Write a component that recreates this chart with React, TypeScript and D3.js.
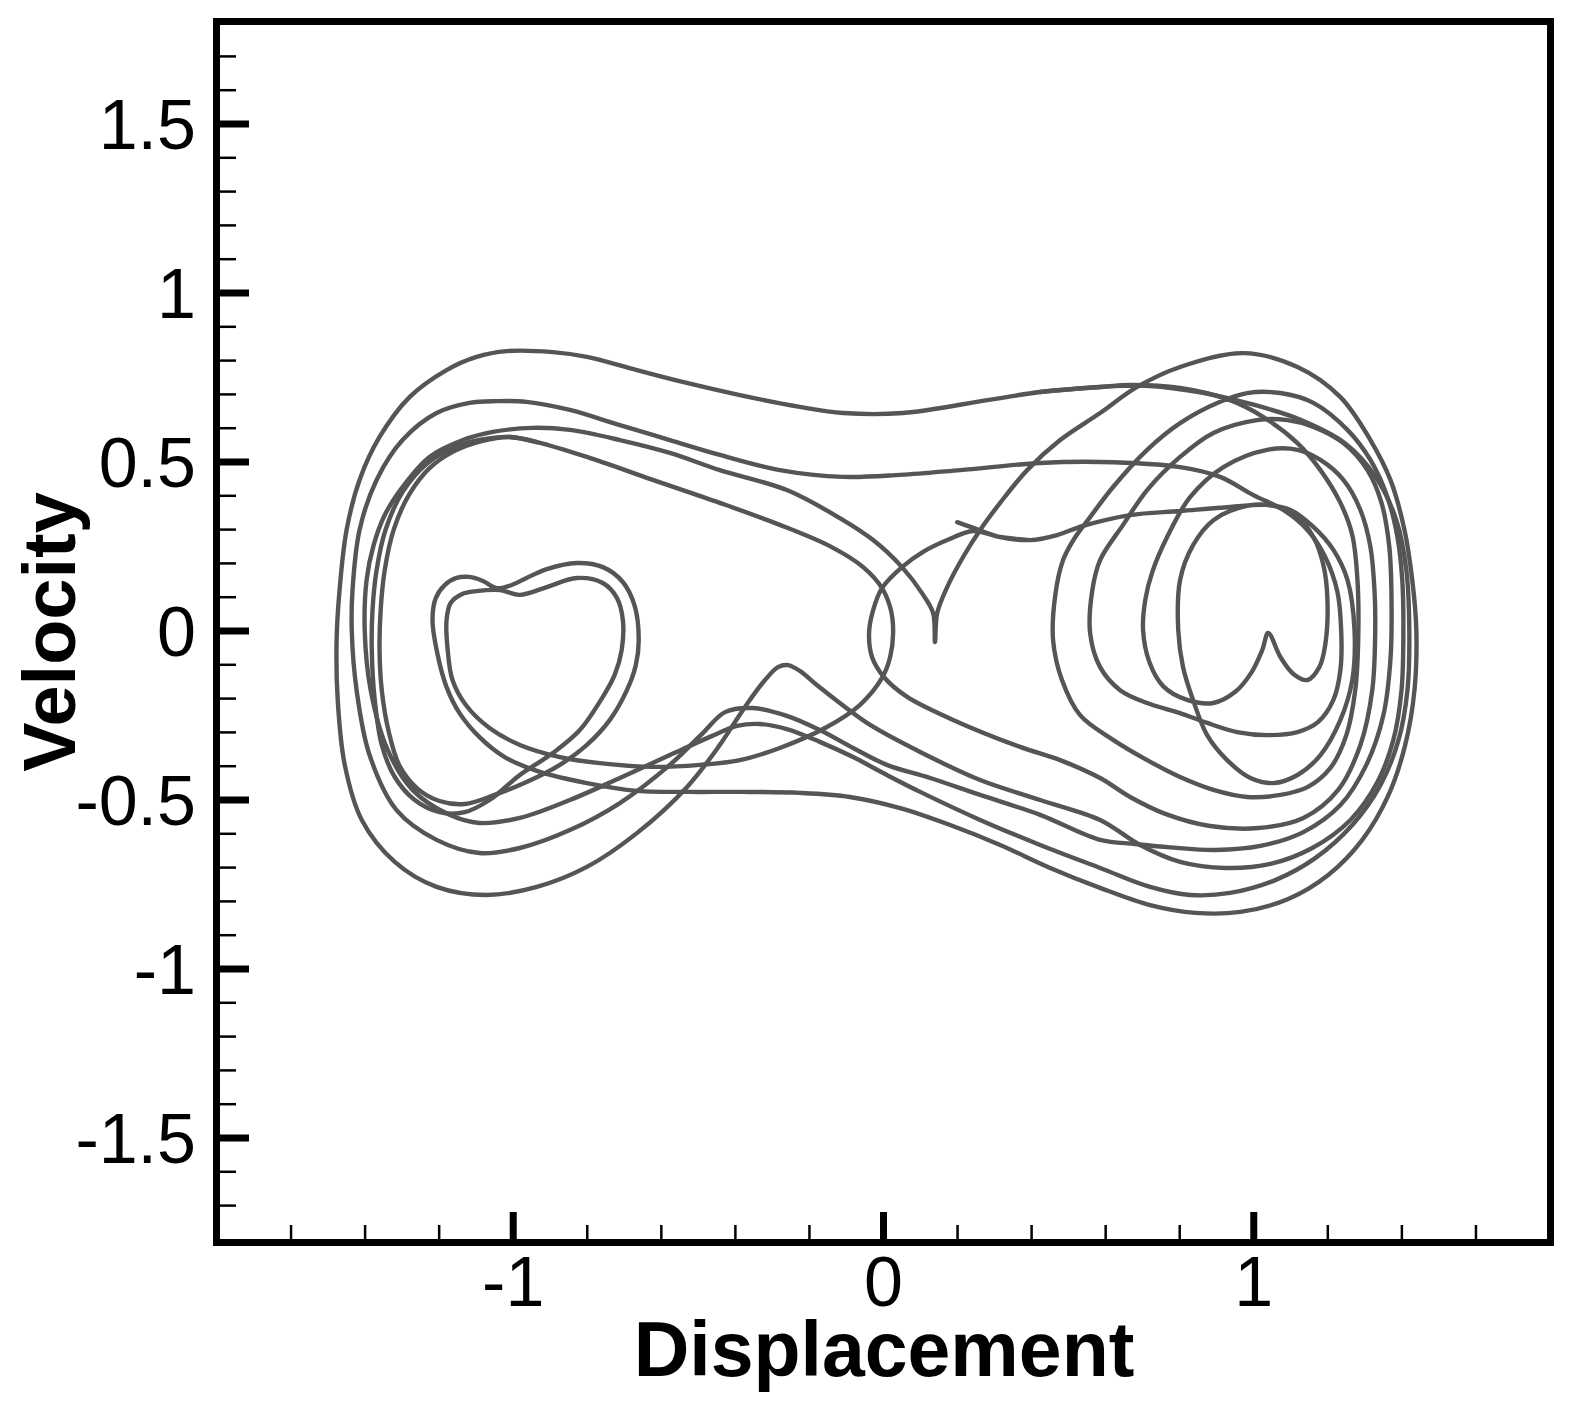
import React from 'react';
import * as d3 from 'd3';

// phase portrait (displacement, velocity)
const orbitA = [
  [0.585,-0.559],[0.423,-0.500],[0.261,-0.441],[0.099,-0.358],[-0.036,-0.278],[-0.118,-0.213],[-0.180,-0.160],[-0.226,-0.118],[-0.258,-0.101],[-0.285,-0.107],[-0.320,-0.145],[-0.361,-0.204],[-0.401,-0.269],[-0.442,-0.337],[-0.531,-0.462],[-0.666,-0.598],[-0.801,-0.698],[-0.936,-0.757],[-1.072,-0.781],[-1.207,-0.757],[-1.320,-0.683],[-1.409,-0.559],[-1.455,-0.396],[-1.474,-0.204],[-1.477,-0.027],[-1.469,0.121],[-1.450,0.299],[-1.415,0.447],[-1.361,0.574],[-1.280,0.692],[-1.180,0.772],[-1.099,0.811],[-1.018,0.828],[-0.893,0.825],[-0.801,0.811],[-0.666,0.772],[-0.531,0.734],[-0.388,0.698],[-0.226,0.663],[-0.109,0.645],[0.053,0.645],[0.280,0.683],[0.423,0.707],[0.585,0.722],[0.666,0.728],[0.801,0.719],[0.936,0.683],[1.026,0.633],[1.118,0.556],[1.180,0.476],[1.234,0.379],[1.266,0.284],[1.280,0.151],[1.282,-0.027],[1.274,-0.175],[1.250,-0.308],[1.207,-0.405],[1.145,-0.462],[1.072,-0.485],[0.982,-0.491],[0.891,-0.470],[0.801,-0.432],[0.712,-0.382],[0.620,-0.322],[0.531,-0.249],[0.482,-0.145],[0.458,-0.027],[0.464,0.107],[0.485,0.210],[0.518,0.278],[0.558,0.337],[0.620,0.426],[0.712,0.536],[0.801,0.615],[0.909,0.678],[0.982,0.704],[1.072,0.704],[1.161,0.675],[1.253,0.595],[1.315,0.506],[1.361,0.396],[1.388,0.278],[1.401,0.151],[1.404,0.003],[1.399,-0.175],[1.377,-0.322],[1.334,-0.447],[1.261,-0.559],[1.158,-0.642],[1.045,-0.689],[0.923,-0.701],[0.801,-0.683],[0.693,-0.633],
];

const orbitB = [
  [0.585,-0.618],[0.423,-0.544],[0.261,-0.485],[0.126,-0.435],[0.009,-0.396],[-0.082,-0.346],[-0.172,-0.293],[-0.261,-0.251],[-0.353,-0.228],[-0.428,-0.240],[-0.488,-0.302],[-0.577,-0.396],[-0.712,-0.509],[-0.847,-0.589],[-0.982,-0.642],[-1.091,-0.657],[-1.207,-0.618],[-1.315,-0.530],[-1.388,-0.367],[-1.423,-0.175],[-1.436,0],[-1.434,0.121],[-1.415,0.299],[-1.369,0.447],[-1.299,0.565],[-1.207,0.645],[-1.118,0.675],[-1.045,0.680],[-0.964,0.678],[-0.847,0.654],[-0.712,0.609],[-0.577,0.565],[-0.442,0.521],[-0.280,0.476],[-0.109,0.456],[0.045,0.462],[0.207,0.476],[0.423,0.497],[0.585,0.500],[0.801,0.485],[0.909,0.456],[0.999,0.402],[1.080,0.358],[1.145,0.299],[1.193,0.219],[1.226,0.115],[1.236,0.003],[1.234,-0.115],[1.215,-0.204],[1.174,-0.269],[1.118,-0.299],[1.036,-0.308],[0.955,-0.299],[0.874,-0.272],[0.801,-0.243],[0.712,-0.213],[0.639,-0.175],[0.585,-0.107],[0.558,-0.006],[0.564,0.121],[0.585,0.210],[0.647,0.314],[0.712,0.417],[0.801,0.515],[0.891,0.586],[1.009,0.624],[1.091,0.624],[1.161,0.604],[1.242,0.556],[1.307,0.476],[1.345,0.379],[1.366,0.249],[1.372,0.092],[1.369,-0.086],[1.350,-0.249],[1.304,-0.396],[1.234,-0.515],[1.134,-0.595],[1.018,-0.636],[0.896,-0.648],[0.774,-0.640],[0.680,-0.630],
];

const orbitC = [
  [-0.388,-0.382],[-0.496,-0.396],[-0.623,-0.402],[-0.766,-0.391],[-0.874,-0.373],[-0.982,-0.337],[-1.064,-0.287],[-1.128,-0.219],[-1.164,-0.145],[-1.177,-0.056],[-1.180,0.033],[-1.169,0.083],[-1.139,0.109],[-1.099,0.118],[-1.036,0.121],[-0.982,0.107],[-0.909,0.130],[-0.828,0.157],[-0.758,0.142],[-0.720,0.098],[-0.704,0.033],[-0.707,-0.056],[-0.726,-0.130],[-0.758,-0.195],[-0.820,-0.293],[-0.893,-0.361],[-0.982,-0.426],[-1.064,-0.500],[-1.131,-0.536],[-1.199,-0.536],[-1.266,-0.500],[-1.320,-0.432],[-1.355,-0.337],[-1.374,-0.204],[-1.382,-0.056],[-1.380,0.062],[-1.369,0.180],[-1.345,0.299],[-1.299,0.411],[-1.231,0.497],[-1.145,0.550],[-1.055,0.571],[-1.009,0.574],[-0.936,0.559],[-0.801,0.515],[-0.623,0.447],[-0.442,0.379],[-0.280,0.314],[-0.145,0.251],[-0.055,0.189],[-0.004,0.127],[0.020,0.062],[0.026,-0.006],[0.018,-0.077],[-0.004,-0.139],[-0.064,-0.219],[-0.158,-0.287],[-0.280,-0.346],
];

const orbitD = [
  [0.423,0.707],[0.585,0.722],[0.720,0.725],[0.855,0.706],[0.991,0.672],[1.126,0.625],[1.247,0.555],[1.328,0.458],[1.385,0.328],[1.412,0.180],[1.420,0.003],[1.415,-0.175],[1.391,-0.322],[1.342,-0.456],[1.266,-0.574],[1.166,-0.672],[1.058,-0.737],[0.936,-0.775],[0.828,-0.781],[0.720,-0.757],[0.585,-0.701],[0.423,-0.633],[0.261,-0.559],[0.099,-0.476],[0.009,-0.426],[-0.082,-0.373],[-0.172,-0.328],[-0.261,-0.290],[-0.334,-0.275],[-0.396,-0.281],[-0.464,-0.311],[-0.577,-0.367],[-0.712,-0.435],[-0.847,-0.500],[-0.982,-0.553],[-1.091,-0.568],[-1.172,-0.544],[-1.272,-0.470],[-1.339,-0.352],[-1.385,-0.175],[-1.401,0],[-1.396,0.151],[-1.377,0.254],[-1.347,0.343],[-1.299,0.426],[-1.226,0.515],[-1.136,0.565],[-1.055,0.589],[-0.947,0.601],[-0.847,0.595],[-0.712,0.565],[-0.577,0.527],[-0.442,0.476],[-0.261,0.417],[-0.118,0.334],[-0.028,0.269],[0.050,0.189],[0.104,0.112],[0.134,0.053],[0.139,-0.033],[0.145,0.053],[0.172,0.130],[0.215,0.219],[0.261,0.299],[0.315,0.379],[0.388,0.476],[0.477,0.565],[0.585,0.645],[0.685,0.722],[0.801,0.781],[0.972,0.822],[1.118,0.781],[1.234,0.692],[1.315,0.565],[1.369,0.447],[1.407,0.299],[1.428,0.151],[1.439,0.003],[1.434,-0.175],[1.409,-0.337],[1.364,-0.485],[1.293,-0.618],[1.201,-0.722],[1.093,-0.793],[0.964,-0.831],[0.842,-0.834],[0.720,-0.811],[0.585,-0.760],[0.450,-0.701],[0.315,-0.633],[0.180,-0.574],[0.045,-0.524],[-0.091,-0.491],[-0.226,-0.479],[-0.388,-0.476],[-0.523,-0.476],[-0.666,-0.473],[-0.801,-0.450],[-0.928,-0.417],[-1.023,-0.373],[-1.091,-0.314],[-1.145,-0.243],[-1.180,-0.166],[-1.204,-0.071],[-1.218,0.033],[-1.209,0.098],[-1.185,0.136],[-1.153,0.157],[-1.118,0.160],[-1.082,0.148],[-1.045,0.127],[-1.004,0.136],[-0.964,0.157],[-0.909,0.183],[-0.828,0.201],[-0.758,0.189],[-0.704,0.145],[-0.672,0.074],[-0.661,-0.027],[-0.669,-0.101],[-0.693,-0.175],[-0.739,-0.263],[-0.801,-0.337],[-0.874,-0.396],[-0.964,-0.447],[-1.050,-0.485],[-1.131,-0.512],[-1.199,-0.503],[-1.258,-0.467],[-1.307,-0.399],[-1.336,-0.299],[-1.355,-0.175],[-1.361,-0.056],[-1.358,0.062],[-1.347,0.180],[-1.323,0.299],[-1.282,0.402],[-1.226,0.482],[-1.158,0.533],[-1.085,0.562],[-1.009,0.574],[-0.936,0.559],
];

const orbitE = [
  [0.199,0.322],[0.242,0.305],[0.315,0.278],[0.396,0.269],[0.469,0.284],[0.539,0.311],[0.666,0.343],[0.801,0.355],[0.936,0.367],[1.036,0.373],[1.099,0.358],[1.161,0.308],[1.215,0.240],[1.253,0.151],[1.272,0.003],[1.266,-0.145],[1.234,-0.263],[1.180,-0.367],[1.118,-0.426],[1.053,-0.450],[0.991,-0.435],[0.928,-0.382],[0.874,-0.308],[0.836,-0.204],[0.809,-0.107],[0.796,0.003],[0.801,0.151],[0.836,0.254],[0.891,0.328],[0.982,0.370],[1.053,0.370],[1.118,0.337],[1.161,0.278],[1.188,0.195],[1.199,0.092],[1.193,-0.041],[1.177,-0.107],[1.145,-0.145],[1.107,-0.127],[1.072,-0.077],[1.039,-0.006],[1.023,-0.056],[0.993,-0.124],[0.950,-0.180],[0.891,-0.213],[0.820,-0.204],[0.755,-0.163],[0.718,-0.092],[0.701,0.003],[0.707,0.092],[0.726,0.175],[0.766,0.278],[0.828,0.396],[0.918,0.485],[1.036,0.536],[1.118,0.536],[1.180,0.506],[1.242,0.447],[1.288,0.358],[1.315,0.249],[1.326,0.121],[1.328,0.003],[1.320,-0.175],[1.288,-0.337],[1.228,-0.470],[1.134,-0.553],[1.012,-0.583],[0.882,-0.577],[0.761,-0.541],[0.666,-0.491],[0.585,-0.435],[0.477,-0.382],[0.369,-0.343],[0.188,-0.263],[0.064,-0.195],[0.001,-0.136],[-0.031,-0.077],[-0.039,-0.006],[-0.028,0.062],[-0.004,0.127],[0.050,0.189],[0.107,0.234],[0.172,0.269],[0.242,0.296],[0.315,0.278],[0.396,0.269],
];

// closed loops vs open trajectory pieces
const closedOrbits = [orbitA, orbitB, orbitC];
const openOrbits = [orbitD, orbitE];

const xMajor = [-1, 0, 1];
const xLabels = ['-1', '0', '1'];
const yMajor = [-1.5, -1, -0.5, 0, 0.5, 1, 1.5];
const yLabels = ['-1.5', '-1', '-0.5', '0', '0.5', '1', '1.5'];

export default function App() {
  const x = d3.scaleLinear().domain([-1.8, 1.8]).range([217, 1550]);
  const y = d3.scaleLinear().domain([-1.8, 1.8]).range([1239.4, 22.6]);

  const openLine = d3.line<number[]>()
    .x(d => x(d[0]))
    .y(d => y(d[1]))
    .curve(d3.curveCatmullRom.alpha(0.5));
  const closedLine = d3.line<number[]>()
    .x(d => x(d[0]))
    .y(d => y(d[1]))
    .curve(d3.curveCatmullRomClosed.alpha(0.5));

  const xMinor = d3.range(-16, 17, 2).map(i => i / 10).filter(v => Math.abs(v % 1) > 1e-6);
  const yMinor = d3.range(-17, 18).map(i => i / 10).filter(v => Math.abs((v * 2) % 1) > 1e-6);

  const font = '"Liberation Sans", Arial, Helvetica, sans-serif';

  return (
    <svg width={1574} height={1408} style={{ position: 'absolute', left: 0, top: 0, background: '#fff' }}>
      <g fill="none" stroke="#555" strokeWidth={4.4} strokeLinejoin="round" strokeLinecap="round">
        {closedOrbits.map((o, i) => <path key={'c' + i} d={closedLine(o) || ''} />)}
        {openOrbits.map((o, i) => <path key={'o' + i} d={openLine(o) || ''} />)}
      </g>

      {/* ticks, inside the frame on the left and bottom only */}
      <g stroke="#000">
        {yMajor.map(v => <line key={'ym' + v} x1={216} x2={249} y1={y(v)} y2={y(v)} strokeWidth={7} />)}
        {yMinor.map(v => <line key={'yn' + v} x1={216} x2={236} y1={y(v)} y2={y(v)} strokeWidth={2.5} />)}
        {xMajor.map(v => <line key={'xm' + v} x1={x(v)} x2={x(v)} y1={1242} y2={1212} strokeWidth={7} />)}
        {xMinor.map(v => <line key={'xn' + v} x1={x(v)} x2={x(v)} y1={1242} y2={1225} strokeWidth={2.5} />)}
      </g>

      <rect x={216.5} y={21.5} width={1334} height={1221} fill="none" stroke="#000" strokeWidth={7} />

      <g fontFamily={font} fontSize={70} fill="#000">
        {yMajor.map((v, i) => (
          <text key={'yl' + v} x={196} y={y(v) + 25} textAnchor="end">{yLabels[i]}</text>
        ))}
        {xMajor.map((v, i) => (
          <text key={'xl' + v} x={x(v)} y={1306} textAnchor="middle">{xLabels[i]}</text>
        ))}
      </g>

      <text x={884} y={1376} textAnchor="middle" fontFamily={font} fontWeight="bold" fontSize={77}>Displacement</text>
      <text transform="translate(75,632) rotate(-90)" textAnchor="middle" fontFamily={font} fontWeight="bold" fontSize={74}>Velocity</text>
    </svg>
  );
}
